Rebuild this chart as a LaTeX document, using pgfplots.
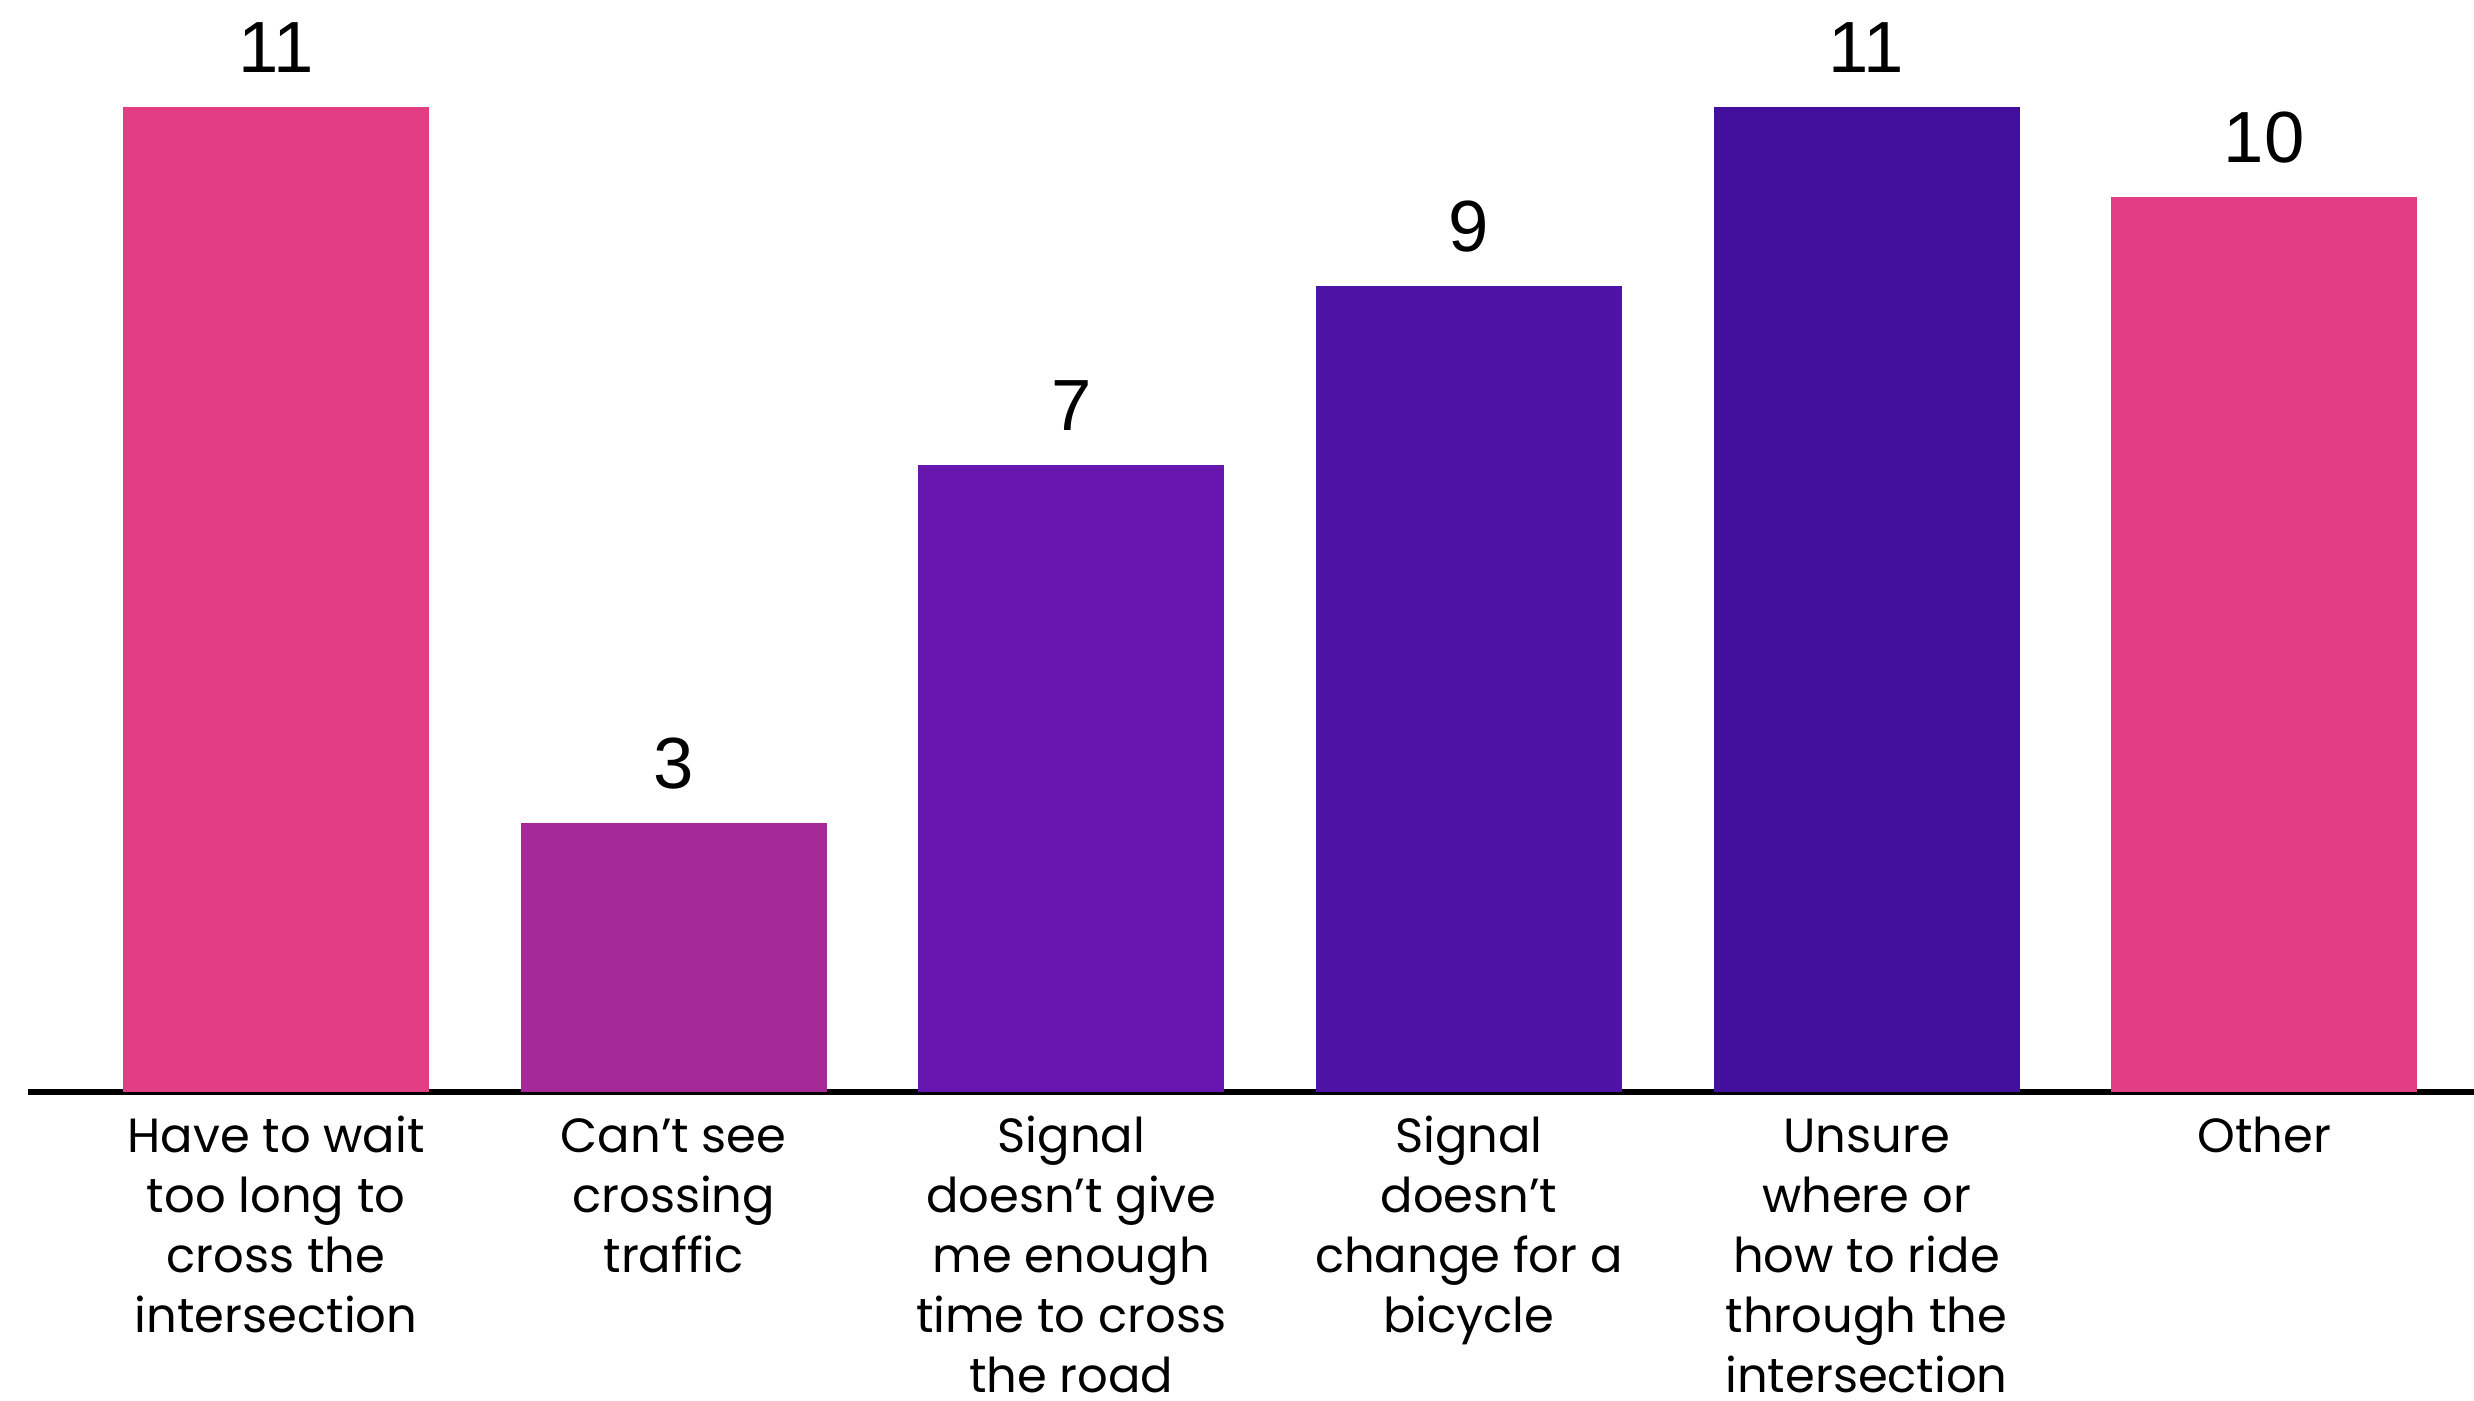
\documentclass[border=0pt]{standalone}
\usepackage{fontspec}
\setmainfont{Poppins}
\newfontfamily\numfont{Liberation Sans}
\usepackage{pgfplots}
\pgfplotsset{compat=1.18}
\definecolor{cpink}{HTML}{E23E83}
\definecolor{cmag}{HTML}{A52A97}
\definecolor{cpur}{HTML}{6616AE}
\definecolor{cvio}{HTML}{4E12A4}
\definecolor{cind}{HTML}{43109D}
\begin{document}
\begin{tikzpicture}
\useasboundingbox (-5.6pt,-61.8pt) rectangle (489.2pt,218.4pt);
\begin{axis}[
  at={(0pt,0pt)}, anchor=south west,
  scale only axis,
  width=489.2pt, height=218.4pt,
  xmin=-0.624, xmax=5.528,
  ymin=0, ymax=12.2,
  clip=false,
  /pgf/number format/assume math mode=true,
  axis y line=none,
  axis x line=bottom,
  axis line style={-, line width=1.3pt, black},
  xtick={0,1,2,3,4,5},
  xticklabels={
    {\strut Have to wait\\too long to\\cross the\\intersection},
    {\strut Can't see\\crossing\\traffic},
    {\strut Signal\\doesn’t give\\me enough\\time to cross\\the road},
    {\strut Signal\\doesn’t\\change for a\\bicycle},
    {\strut Unsure\\where or\\how to ride\\through the\\intersection},
    {\strut Other}},
  xtick style={draw=none},
  xticklabel style={align=center, anchor=north, inner sep=0pt, yshift=0.7pt,
    font=\fontsize{9.6}{12}\selectfont},
  ybar,
  bar width=61.2pt,
  nodes near coords,
  nodes near coords style={font=\numfont\fontsize{14.5}{16}\selectfont, anchor=base, yshift=6.9pt, black},
]
\addplot[fill=cpink, draw=none, bar shift=0pt] coordinates {(0,11)};
\addplot[fill=cmag, draw=none, bar shift=0pt] coordinates {(1,3)};
\addplot[fill=cpur, draw=none, bar shift=0pt] coordinates {(2,7)};
\addplot[fill=cvio, draw=none, bar shift=0pt] coordinates {(3,9)};
\addplot[fill=cind, draw=none, bar shift=0pt] coordinates {(4,11)};
\addplot[fill=cpink, draw=none, bar shift=0pt] coordinates {(5,10)};
\end{axis}
\end{tikzpicture}
\end{document}
